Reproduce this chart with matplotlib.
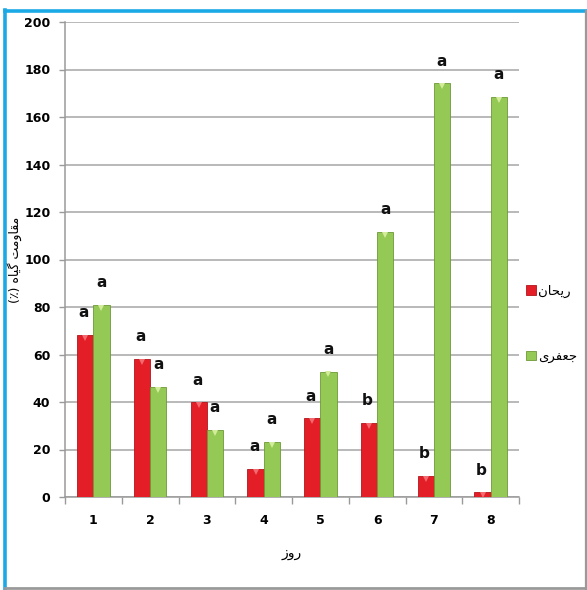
import matplotlib
matplotlib.use("Agg")
import matplotlib.pyplot as plt
import numpy as np
from matplotlib.patches import Rectangle
from matplotlib.lines import Line2D

# Data
days = ["1", "2", "3", "4", "5", "6", "7", "8"]
basil = [68.2, 58.1, 39.9, 11.7, 33.1, 31.3, 8.8, 2.0]
parsley = [80.8, 46.4, 28.2, 23.3, 52.8, 111.5, 174.2, 168.5]
basil_letters = ["a", "a", "a", "a", "a", "b", "b", "b"]
parsley_letters = ["a", "a", "a", "a", "a", "a", "a", "a"]
y_ticks = [0, 20, 40, 60, 80, 100, 120, 140, 160, 180, 200]

# Persian labels written with Arabic presentation forms in visual order
label_basil = "\uFEE5\uFE8E\uFEA4\uFEF3\uFEAD"          # ریحان
label_parsley = "\uFEEF\uFEAE\uFED4\uFECC\uFE9F"        # جعفری
label_x = "\uFEAF\uFEED\uFEAD"                            # روز
label_y = "(\u066A) \uFEE9\uFE8E\uFEF4\uFB94 \uFE96\uFEE3\uFEED\uFE8E\uFED8\uFEE3"  # مقاومت گیاه (٪)

RED = "#E41E26"
RED_EDGE = "#B3141B"
RED_HI = "#F26B70"
GREEN = "#94C955"
GREEN_EDGE = "#6C9A36"
GREEN_HI = "#D3EC9C"

W, H = 587, 590
fig = plt.figure(figsize=(W / 100, H / 100), dpi=100)
fig.patch.set_facecolor("white")

# Frame around the chart: blue left/top, grey right/bottom
fig.add_artist(Line2D([5 / W, 5 / W], [0, 1 - 10 / H], transform=fig.transFigure,
                      color="#1BA9E6", lw=2.6))
fig.add_artist(Line2D([5 / W, 1], [1 - 11 / H, 1 - 11 / H], transform=fig.transFigure,
                      color="#1BA9E6", lw=2.6))
fig.add_artist(Line2D([586 / W, 586 / W], [0, 1 - 11 / H], transform=fig.transFigure,
                      color="#9A9A9A", lw=1.6))
fig.add_artist(Line2D([5 / W, 1], [2 / H, 2 / H], transform=fig.transFigure,
                      color="#9A9A9A", lw=2.0))

left, right = 65 / W, 519 / W
bottom, top = 1 - 497 / H, 1 - 22 / H
ax = fig.add_axes([left, bottom, right - left, top - bottom])

x = np.arange(len(days)) + 1
bw = 0.285
xr = x - bw / 2
xg = x + bw / 2

ax.bar(xr, basil, width=bw, color=RED, edgecolor=RED_EDGE, linewidth=0.6, zorder=3)
ax.bar(xg, parsley, width=bw, color=GREEN, edgecolor=GREEN_EDGE, linewidth=0.6, zorder=3)

# bevel highlight at the top of each bar
ax.plot(xr, np.array(basil) - 1.2, linestyle="none", marker="v", markersize=5,
        color=RED_HI, markeredgewidth=0, zorder=4)
ax.plot(xg, np.array(parsley) - 1.2, linestyle="none", marker="v", markersize=5,
        color=GREEN_HI, markeredgewidth=0, zorder=4)

# significance letters
for xi, v, t in zip(xr, basil, basil_letters):
    ax.annotate(t, (xi, v), xytext=(-1, 16), textcoords="offset points",
                ha="center", va="center", fontsize=11, fontweight="bold", color="#111111")
for xi, v, t in zip(xg, parsley, parsley_letters):
    ax.annotate(t, (xi, v), xytext=(0, 16), textcoords="offset points",
                ha="center", va="center", fontsize=11, fontweight="bold", color="#111111")

ax.set_xlim(0.5, len(days) + 0.5)
ax.set_ylim(0, 200)
ax.set_yticks(y_ticks)
ax.set_yticklabels([str(v) for v in y_ticks], fontsize=9, fontweight="bold")
ax.set_xticks(x)
ax.set_xticklabels(days, fontsize=9, fontweight="bold")
ax.set_xticks(np.arange(len(days) + 1) + 0.5, minor=True)
ax.tick_params(axis="x", which="major", length=0, pad=12)
ax.tick_params(axis="x", which="minor", length=5, color="#9A9A9A", width=1)
ax.tick_params(axis="y", length=4.5, color="#9A9A9A", width=1, pad=6)

ax.grid(axis="y", color="#A6A6A6", linewidth=1.1, zorder=0)
ax.set_axisbelow(True)
for s in ["top", "right"]:
    ax.spines[s].set_visible(False)
for s in ["left", "bottom"]:
    ax.spines[s].set_color("#9A9A9A")
    ax.spines[s].set_linewidth(1.1)

ax.set_xlabel(label_x, fontsize=10, labelpad=14, family=["DejaVu Sans"])
fig.text(15 / W, 1 - 260 / H, label_y, rotation=90, ha="center", va="center",
         fontsize=9, family=["DejaVu Sans"])

# legend
handles = [Rectangle((0, 0), 1, 1, facecolor=RED, edgecolor=RED_EDGE, lw=0.6),
           Rectangle((0, 0), 1, 1, facecolor=GREEN, edgecolor=GREEN_EDGE, lw=0.6)]
ax.legend(handles, [label_basil, label_parsley], loc="center left",
          bbox_to_anchor=(0.996, 0.364), frameon=False, fontsize=9.5,
          handlelength=0.7, handleheight=0.7, handletextpad=0.2,
          labelspacing=4.0, borderaxespad=0.3)

fig.savefig("out.png", dpi=100, facecolor="white")
